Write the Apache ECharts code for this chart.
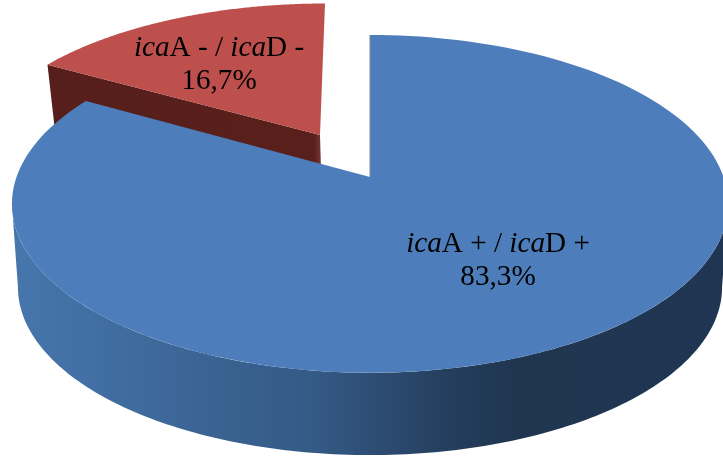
<!DOCTYPE html>
<html>
<head>
<meta charset="utf-8">
<style>html,body{margin:0;padding:0;background:#fff}#c{width:723px;height:459px}</style>
<script src="https://cdn.jsdelivr.net/npm/echarts@6/dist/echarts.min.js"></script>
</head>
<body>
<div id="c"></div>
<script>
// Share of isolates per gene status; the exploded slice is drawn first, the large one over it.
const categories = ['icaA - / icaD -', 'icaA + / icaD +'];
const shares = [16.7, 83.3];

// Perspective disc: a point at clock angle t sits at apex + (a sin t, -b cos t) / (1 + e cos t).
const E = 0.159;
const blueTop = { ax: 370, ay: 177, a: 353.5, b: 164.6, skew: 0 };
const blueBase = { ax: 370, ay: 260.4, a: 347.6, b: 163.7, skew: 0 };
const redTop = { ax: 320, ay: 135, a: 342.5, b: 152.4, skew: 5.8 };
const redBase = { ax: 322, ay: 205, a: 335, b: 150, skew: 5.8 };

const project = (d, deg) => {
  const t = deg * Math.PI / 180, k = 1 + E * Math.cos(t);
  return [
    d.ax + (d.a * Math.sin(t) + d.skew * Math.cos(t)) / k,
    d.ay - d.b * Math.cos(t) / k
  ];
};
const arc = (d, from, to) => {
  const pts = [], n = 160;
  for (let i = 0; i <= n; i++) pts.push(project(d, from + (to - from) * i / n));
  return pts;
};
const sliceFace = (d, from, to) => [[d.ax, d.ay], ...arc(d, from, to)];

const G = echarts.graphic.LinearGradient;
const blueWallFill = new G(18, 0, 724, 0, [
  { offset: 0, color: '#4676ac' },
  { offset: 0.12, color: '#416ea2' },
  { offset: 0.28, color: '#3a6392' },
  { offset: 0.42, color: '#345a86' },
  { offset: 0.5, color: '#2e4e75' },
  { offset: 0.6, color: '#253f5f' },
  { offset: 0.7, color: '#203650' },
  { offset: 1, color: '#1f3552' }
], true);
const redWallFill = new G(48, 0, 322, 0, [
  { offset: 0, color: '#571f1b' },
  { offset: 0.97, color: '#581f1b' },
  { offset: 1, color: '#7a3a36' }
], true);

const FONT_SIZE = 29.2;
const LINE_HEIGHT = 33.5;
const richStyles = {
  i: { fontFamily: 'Liberation Serif', fontSize: FONT_SIZE, fontStyle: 'italic', fill: '#000', lineHeight: LINE_HEIGHT },
  n: { fontFamily: 'Liberation Serif', fontSize: FONT_SIZE, fill: '#000', lineHeight: LINE_HEIGHT }
};
const labelText = (name, v) => {
  const parts = name.split('ica').map((s, i) => (i ? '{i|ica}' : '') + (s ? '{n|' + s + '}' : ''));
  return parts.join('') + '\n{n|' + v.toFixed(1).replace('.', ',') + '%}';
};
const label = (x, y, name, v) => ({
  type: 'text',
  silent: true,
  style: {
    x, y,
    text: labelText(name, v),
    rich: richStyles,
    align: 'center',
    verticalAlign: 'middle',
    font: FONT_SIZE + 'px "Liberation Serif"'
  }
});

const total = shares[0] + shares[1];

function renderItem(params, api) {
  const v = api.value(0);
  const sweep = v / total * 360;
  const name = categories[params.dataIndex];

  if (params.dataIndex === 0) {
    const from = 360 - sweep;
    const c1 = project(redTop, from), c2 = project(redBase, from);
    return {
      type: 'group',
      children: [
        { type: 'polygon', silent: true,
          shape: { points: [[redTop.ax, redTop.ay], c1, c2, [redBase.ax, redBase.ay]] },
          style: { fill: redWallFill } },
        { type: 'polygon', silent: true,
          shape: { points: sliceFace(redTop, from, 360) },
          style: { fill: '#bd4f4c' } },
        label(219, 65, name, v)
      ]
    };
  }

  const cosTurn = Math.acos(-E) * 180 / Math.PI;
  return {
    type: 'group',
    children: [
      { type: 'polygon', silent: true,
        shape: { points: [...arc(blueTop, cosTurn, 360 - cosTurn), ...arc(blueBase, 360 - cosTurn, cosTurn)] },
        style: { fill: blueWallFill } },
      { type: 'polygon', silent: true,
        shape: { points: sliceFace(blueTop, 0, sweep) },
        style: { fill: '#4d7ebb' } },
      { type: 'line', silent: true,
        shape: { x1: 370, y1: 35, x2: 370, y2: 177 },
        style: { stroke: '#7f8b99', lineWidth: 1 } },
      label(498, 261, name, v)
    ]
  };
}

const chart = echarts.init(document.getElementById('c'), null, { renderer: 'canvas' });
chart.setOption({
  animation: false,
  backgroundColor: '#ffffff',
  series: [{
    type: 'custom',
    coordinateSystem: 'none',
    silent: true,
    clip: false,
    data: shares.map(v => [v]),
    renderItem
  }]
});
</script>
</body>
</html>
